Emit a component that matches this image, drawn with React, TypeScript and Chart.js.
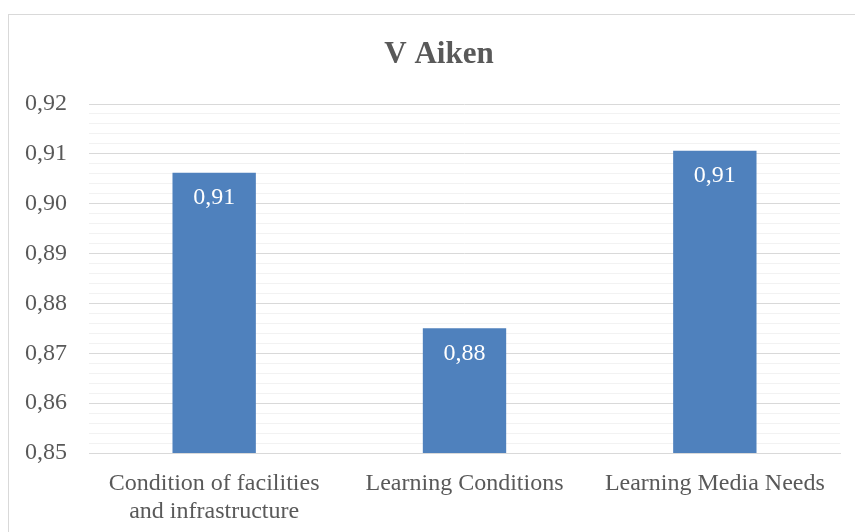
import React, { useEffect, useRef } from "react";
import { Chart, registerables } from "chart.js";

Chart.register(...registerables);

const categories: (string | string[])[] = [
  ["Condition of facilities", "and infrastructure"],
  "Learning Conditions",
  "Learning Media Needs",
];
const values: number[] = [0.9062, 0.875, 0.9106];
const yMin = 0.85;
const yMax = 0.92;
const minorStep = 0.002;
const chartTitle = "V Aiken";

const FONT = '"Liberation Serif", "Times New Roman", serif';
const TEXT = "#595959";

const fmt = (v: number) => v.toFixed(2).replace(".", ",");
const isMajor = (v: number) => Math.abs(v * 100 - Math.round(v * 100)) < 1e-6;

const barLabels = {
  id: "barLabels",
  afterDatasetsDraw(chart: any) {
    const ctx = chart.ctx;
    const meta = chart.getDatasetMeta(0);
    ctx.save();
    ctx.fillStyle = "#ffffff";
    ctx.font = `24px ${FONT}`;
    ctx.textAlign = "center";
    ctx.textBaseline = "middle";
    meta.data.forEach((el: any, i: number) => {
      ctx.fillText(fmt(values[i]), el.x, el.y + 25);
    });
    ctx.restore();
  },
};

const titleDraw = {
  id: "titleDraw",
  afterDraw(chart: any) {
    const ctx = chart.ctx;
    ctx.save();
    ctx.fillStyle = TEXT;
    ctx.font = `bold 31px ${FONT}`;
    ctx.textAlign = "center";
    ctx.textBaseline = "middle";
    ctx.fillText(chartTitle, 430, 40);
    ctx.restore();
  },
};

export default function App() {
  const ref = useRef<HTMLCanvasElement>(null);
  useEffect(() => {
    if (!ref.current) return;
    const chart = new Chart(ref.current, {
      type: "bar",
      data: {
        labels: categories,
        datasets: [
          {
            data: values,
            backgroundColor: "#4f81bd",
            borderWidth: 0,
            barPercentage: 0.333,
            categoryPercentage: 1,
          },
        ],
      },
      options: {
        responsive: false,
        animation: false,
        devicePixelRatio: 1,
        layout: { padding: { left: 0, right: 15, top: 89, bottom: 0 } },
        plugins: {
          legend: { display: false },
          tooltip: { enabled: false },
          title: { display: false },
        },
        scales: {
          x: {
            afterFit: (s: any) => {
              s.height = 79;
            },
            grid: { display: false, drawTicks: false },
            border: { color: "#d9d9d9", width: 1 },
            ticks: {
              color: TEXT,
              font: { family: FONT, size: 24, lineHeight: 1.2 },
              padding: 16,
              maxRotation: 0,
              autoSkip: false,
            },
          },
          y: {
            min: yMin,
            max: yMax,
            afterFit: (s: any) => {
              s.width = 80;
            },
            border: { display: false },
            grid: {
              drawTicks: false,
              color: (c: any) =>
                c.tick && isMajor(c.tick.value) ? "#d9d9d9" : "#f2f2f2",
              lineWidth: 1,
            },
            ticks: {
              stepSize: minorStep,
              autoSkip: false,
              color: TEXT,
              padding: 22,
              font: { family: FONT, size: 24 },
              callback: (v: any) => (isMajor(Number(v)) ? fmt(Number(v)) : ""),
            },
          },
        },
      },
      plugins: [barLabels, titleDraw],
    });
    return () => chart.destroy();
  }, []);

  return (
    <div
      style={{
        position: "fixed",
        left: 0,
        top: 0,
        width: 855,
        height: 532,
        overflow: "hidden",
        background: "#fff",
      }}
    >
      <div
        style={{
          position: "absolute",
          left: 8,
          top: 14,
          width: 860,
          height: 530,
          border: "1px solid #d9d9d9",
          background: "#fff",
        }}
      >
        <canvas ref={ref} width={846} height={517} style={{ display: "block" }} />
      </div>
    </div>
  );
}
